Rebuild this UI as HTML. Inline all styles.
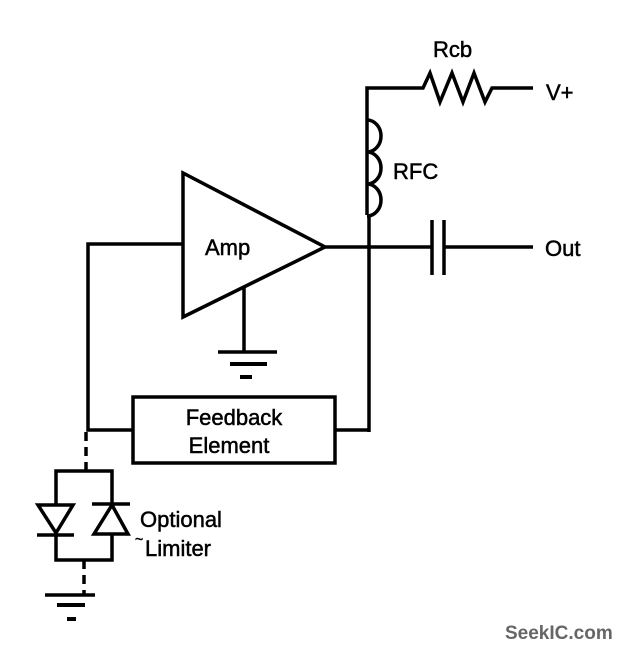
<!DOCTYPE html>
<html><head><meta charset="utf-8"><style>
html,body{margin:0;padding:0;background:#fff;}
svg{display:block;}
text{font-family:"Liberation Sans",Arial,sans-serif;fill:#000;stroke:#000;stroke-width:0.5;}
</style></head><body>
<svg width="624" height="652" viewBox="0 0 624 652" xmlns="http://www.w3.org/2000/svg">
<g stroke="#000" stroke-width="3.5" fill="none" stroke-linejoin="miter">
<polyline points="367,215 367,88 423,88 430,73 440,102 452,73 463,102 474,73 485,102 492,88 533,88"/>
<path d="M367,120 a14,16 0 0 1 0,32 a14,16 0 0 1 0,32 a14,16 0 0 1 0,32"/>
<line x1="369" y1="215" x2="369" y2="432"/>
<polygon points="183,173 183,317 325,247"/>
<line x1="325" y1="247" x2="432" y2="247"/>
<line x1="444" y1="247" x2="533" y2="247"/>
<line x1="432" y1="220" x2="432" y2="275"/>
<line x1="444" y1="220" x2="444" y2="275"/>
<polyline points="183,244 88,244 88,430 133,430"/>
<rect x="133" y="397" width="202" height="66"/>
<polyline points="335,430 369,430"/>
<line x1="244" y1="286" x2="244" y2="352"/>
<line x1="218" y1="352" x2="277" y2="352"/>
<line x1="230" y1="364" x2="267" y2="364" stroke-width="4"/>
<line x1="240" y1="377" x2="252" y2="377" stroke-width="4"/>
<line x1="86" y1="432" x2="86" y2="471" stroke-dasharray="9,6"/>
<line x1="84" y1="560" x2="84" y2="595" stroke-dasharray="9,6"/>
<polyline points="56,505 56,471 112,471 112,504"/>
<polyline points="56,535 56,560 112,560 112,534"/>
<polygon points="38,505 73,505 56,533"/>
<line x1="37" y1="535" x2="74" y2="535"/>
<line x1="92" y1="504" x2="130" y2="504"/>
<polygon points="94,534 128,534 112,505"/>
<line x1="45" y1="595" x2="95" y2="595"/>
<line x1="57" y1="605" x2="85" y2="605" stroke-width="4"/>
<line x1="67" y1="619" x2="76" y2="619" stroke-width="4"/>
</g>
<text x="433" y="57" font-size="22">Rcb</text>
<text x="546" y="100" font-size="22">V+</text>
<text x="393" y="179" font-size="22">RFC</text>
<text x="205" y="255" font-size="22">Amp</text>
<text x="545" y="256" font-size="22">Out</text>
<text x="234" y="425" font-size="22" text-anchor="middle">Feedback</text>
<text x="229" y="453" font-size="22" text-anchor="middle">Element</text>
<text x="140" y="527" font-size="22">Optional</text>
<text x="135" y="544" font-size="14">~</text>
<text x="145" y="556" font-size="22">Limiter</text>
<text x="505" y="639" font-size="19" font-weight="bold" style="fill:#666;stroke:none">SeekIC.com</text>
</svg>
</body></html>
